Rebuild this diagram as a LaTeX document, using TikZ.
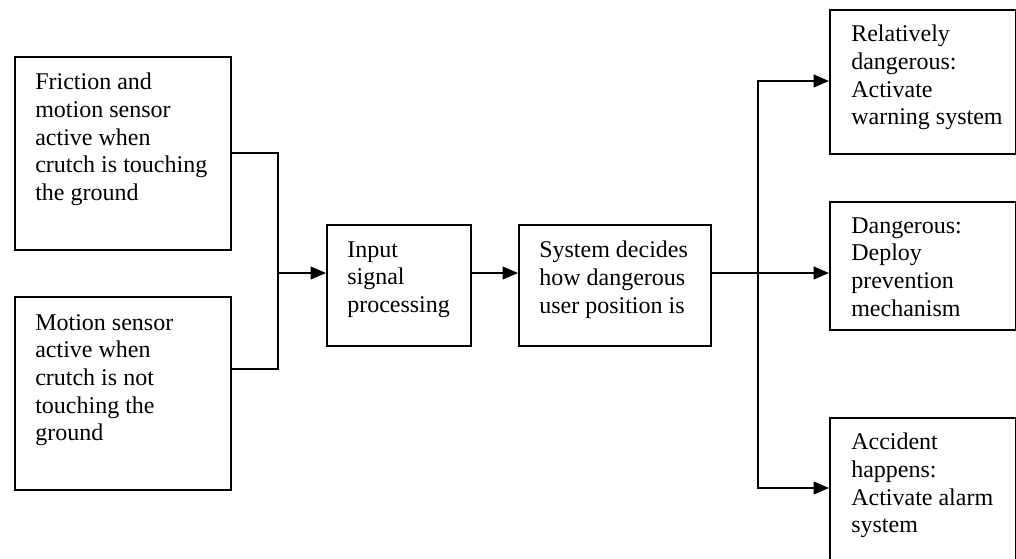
\documentclass[tikz,border=0pt]{standalone}
\usepackage{fontspec}
\setmainfont{Liberation Serif}
\usetikzlibrary{arrows.meta}
\begin{document}
\begin{tikzpicture}[x=0.75pt,y=-0.75pt,
  box/.style={draw=black,line width=1.2pt,rectangle,anchor=north west,inner sep=0pt},
  txt/.style={anchor=north west,inner sep=0pt,align=left,font=\fontsize{18}{20.7}\selectfont},
  conn/.style={draw=black,line width=1.2pt},
  arr/.style={conn,-{Triangle[length=11.5pt,width=9.5pt]}}]
\useasboundingbox (0,0) rectangle (1016,559);
\clip (0,0) rectangle (1016,559);
% boxes
\node[box,minimum width=216*0.75pt,minimum height=193*0.75pt] (b1) at (14,56) {};
\node[box,minimum width=216*0.75pt,minimum height=193*0.75pt] (b2) at (14,296) {};
\node[box,minimum width=144*0.75pt,minimum height=121*0.75pt] (inp) at (326,224) {};
\node[box,minimum width=192*0.75pt,minimum height=121*0.75pt] (sys) at (518,224) {};
\node[box,minimum width=186*0.75pt,minimum height=144*0.75pt] (r1) at (829,9) {};
\node[box,minimum width=186*0.75pt,minimum height=128*0.75pt] (r2) at (829,201) {};
\node[box,minimum width=186*0.75pt,minimum height=190*0.75pt] (r3) at (829,417) {};
% texts
\node[txt] (b1t) at ([shift={(21,17)}]b1.north west) {\rule{0pt}{12pt}Friction and\\motion sensor\\active when\\crutch is touching\\the ground};
\node[txt] (b2t) at ([shift={(21,18)}]b2.north west) {\rule{0pt}{12pt}Motion sensor\\active when\\crutch is not\\touching the\\ground};
\node[txt] (inpt) at ([shift={(21,17)}]inp.north west) {\rule{0pt}{12pt}Input\\signal\\processing};
\node[txt] (syst) at ([shift={(21,17)}]sys.north west) {\rule{0pt}{12pt}System decides\\how dangerous\\user position is};
\node[txt] (r1t) at ([shift={(22,16)}]r1.north west) {\rule{0pt}{12pt}Relatively\\dangerous:\\Activate\\warning system};
\node[txt] (r2t) at ([shift={(22,16)}]r2.north west) {\rule{0pt}{12pt}Dangerous:\\Deploy\\prevention\\mechanism};
\node[txt] (r3t) at ([shift={(22,16)}]r3.north west) {\rule{0pt}{12pt}Accident\\happens:\\Activate alarm\\system};
% junction coordinates
\coordinate (j1) at (278,153);
\coordinate (j2) at (278,369);
\coordinate (jin) at (278,273);
\coordinate (k1) at (758,81);
\coordinate (k2) at (758,488);
% connectors
\draw[conn] (b1.east |- j1) -- (j1) -- (j2) -- (b2.east |- j2);
\draw[arr] (jin) -- (inp.west |- jin);
\draw[arr] (inp.east |- jin) -- (sys.west |- jin);
\draw[arr] (sys.east |- jin) -- (r2.west |- jin);
\draw[conn,{Triangle[length=11.5pt,width=9.5pt]}-{Triangle[length=11.5pt,width=9.5pt]}] (r1.west |- k1) -- (k1) -- (k2) -- (r3.west |- k2);
\end{tikzpicture}
\end{document}
